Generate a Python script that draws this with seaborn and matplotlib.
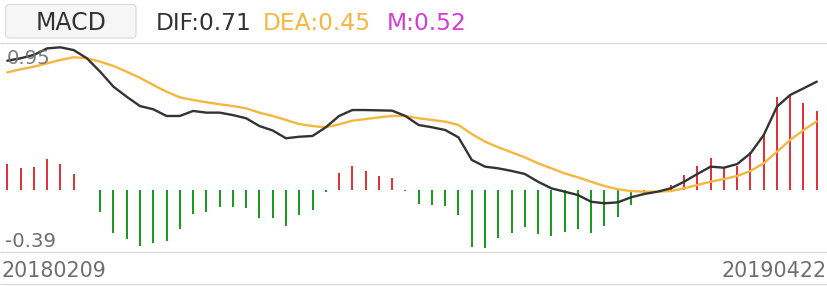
import numpy as np
import pandas as pd
import matplotlib
matplotlib.use("Agg")
import matplotlib.pyplot as plt
from matplotlib.patches import FancyBboxPatch
import seaborn as sns

# ---------------- data ----------------
dif = [0.847, 0.863, 0.885, 0.928, 0.935, 0.917, 0.863, 0.775, 0.677, 0.611,
       0.55, 0.529, 0.485, 0.485, 0.518, 0.507, 0.507, 0.491, 0.47, 0.419,
       0.39, 0.339, 0.349, 0.354, 0.411, 0.485, 0.524, 0.524, 0.522, 0.52,
       0.485, 0.426, 0.411, 0.393, 0.345, 0.197, 0.153, 0.142, 0.125, 0.105,
       0.054, 0.011, -0.011, -0.033, -0.077, -0.087, -0.081, -0.048, -0.026, -0.011,
       0.011, 0.054, 0.105, 0.153, 0.146, 0.17, 0.24, 0.36, 0.546, 0.623, 0.666, 0.71]
dea = [0.771, 0.791, 0.808, 0.83, 0.852, 0.87, 0.863, 0.841, 0.813, 0.775,
       0.735, 0.688, 0.644, 0.607, 0.59, 0.575, 0.562, 0.55, 0.535, 0.507,
       0.485, 0.459, 0.432, 0.419, 0.411, 0.43, 0.454, 0.465, 0.476, 0.485,
       0.485, 0.47, 0.459, 0.448, 0.426, 0.367, 0.317, 0.28, 0.247, 0.214,
       0.175, 0.142, 0.109, 0.083, 0.054, 0.026, 0.005, -0.007, -0.011, -0.011,
       -0.007, 0.011, 0.033, 0.054, 0.072, 0.092, 0.125, 0.175, 0.251, 0.328, 0.393, 0.45]
macd = [0.168, 0.144, 0.151, 0.205, 0.170, 0.103, 0.0, -0.144, -0.284, -0.323,
        -0.367, -0.345, -0.332, -0.258, -0.157, -0.142, -0.114, -0.114, -0.12, -0.184,
        -0.186, -0.236, -0.164, -0.131, -0.01, 0.109, 0.157, 0.122, 0.092, 0.077,
        -0.005, -0.092, -0.098, -0.105, -0.164, -0.376, -0.382, -0.317, -0.284, -0.245,
        -0.288, -0.301, -0.273, -0.256, -0.28, -0.236, -0.179, -0.098, -0.02, 0.0,
        0.033, 0.098, 0.157, 0.212, 0.142, 0.157, 0.251, 0.36, 0.607, 0.623, 0.572, 0.52]
y_labels = ["0.95", "-0.39"]
date_labels = ["20180209", "20190422"]
header_name = "MACD"
header_items = ["DIF:0.71", "DEA:0.45", "M:0.52"]

# ---------------- style ----------------
W, H = 828, 286
RED, GREEN = "#e2323a", "#1d9a22"
BLACK, ORANGE, MAGENTA = "#333333", "#f7b640", "#d43cd4"
GRID = "#d9d9d9"
GRAY = "#6e6e6e"

sns.set_style("white")
plt.rcParams["font.family"] = ["DejaVu Sans"]

fig = plt.figure(figsize=(W / 100, H / 100), dpi=100)
fig.patch.set_facecolor("white")

# background (pixel coordinates) for frame lines and texts
bg = fig.add_axes([0, 0, 1, 1], zorder=0)
bg.set_xlim(0, W)
bg.set_ylim(H, 0)
bg.axis("off")

top_px, bot_px, foot_px = 42.5, 251.7, 284.0
for yy in (top_px, bot_px, foot_px):
    bg.plot([0, W], [yy, yy], color=GRID, lw=0.9, solid_capstyle="butt")

box = FancyBboxPatch((5.5, 4.5), 130.5, 33.5,
                     boxstyle="round,pad=0,rounding_size=4",
                     facecolor="#f6f6f6", edgecolor="#dcdcdc", lw=0.9)
bg.add_patch(box)
bg.text(70.7, 30.5, header_name, fontsize=17, color=BLACK, ha="center", va="baseline")

header_x = [155.5, 263.0, 386.5]
header_c = [BLACK, ORANGE, MAGENTA]
for txt, xx, cc in zip(header_items, header_x, header_c):
    bg.text(xx, 30.5, txt, fontsize=16.8, color=cc, ha="left", va="baseline")

# main chart axes
zero_px, scale_px = 190.0, 152.6
ymax = (zero_px - top_px) / scale_px
ymin = (zero_px - bot_px) / scale_px
ax = fig.add_axes([0, (H - bot_px) / H, 1, (bot_px - top_px) / H], zorder=1)
ax.patch.set_alpha(0)

n = len(macd)
df = pd.DataFrame({
    "idx": np.arange(n),
    "dif": dif,
    "dea": dea,
    "macd": macd,
})
df["side"] = np.where(df["macd"] >= 0, "up", "down")

step = 13.27
x0_px = 7.3
sns.barplot(data=df, x="idx", y="macd", hue="side",
            palette={"up": RED, "down": GREEN}, width=2.0 / step, dodge=False,
            legend=False, linewidth=0, saturation=1, ax=ax)
for p in ax.patches:
    p.set_snap(True)
sns.lineplot(data=df, x="idx", y="dea", color=ORANGE, lw=1.7, ax=ax)
sns.lineplot(data=df, x="idx", y="dif", color=BLACK, lw=1.7, ax=ax)

ax.set_xlim(-x0_px / step, (n - 1) + (W - (x0_px + (n - 1) * step)) / step)
ax.set_ylim(ymin, ymax)
ax.set_xticks([])
ax.set_yticks([])
ax.set_xlabel("")
ax.set_ylabel("")
for s in ax.spines.values():
    s.set_visible(False)

# value labels & dates (on top)
txt_ax = fig.add_axes([0, 0, 1, 1], zorder=2)
txt_ax.set_xlim(0, W)
txt_ax.set_ylim(H, 0)
txt_ax.axis("off")
txt_ax.patch.set_alpha(0)
txt_ax.text(6.5, 64.0, y_labels[0], fontsize=14.2, color=GRAY, alpha=0.9,
            ha="left", va="baseline")
txt_ax.text(5.5, 246.7, y_labels[1], fontsize=14.2, color=GRAY,
            ha="left", va="baseline")
txt_ax.text(1.5, 276.7, date_labels[0], fontsize=14.9, color=GRAY,
            ha="left", va="baseline")
txt_ax.text(826.5, 276.7, date_labels[1], fontsize=14.9, color=GRAY,
            ha="right", va="baseline")

fig.savefig("out.png", dpi=100, facecolor="white")
